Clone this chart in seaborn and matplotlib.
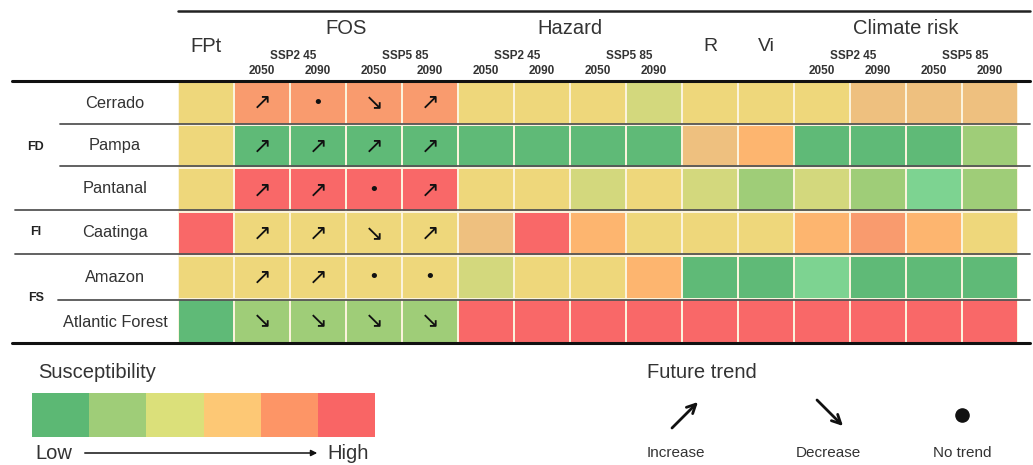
import numpy as np
import pandas as pd
import seaborn as sns
import matplotlib.pyplot as plt
from matplotlib.colors import ListedColormap

sns.set_theme(style='white')
plt.rcParams['font.family'] = ['Liberation Sans', 'DejaVu Sans']

# Data
regions = ['Cerrado', 'Pampa', 'Pantanal', 'Caatinga', 'Amazon', 'Atlantic Forest']
columns = ['FPt',
           'FOS 245 2050', 'FOS 245 2090', 'FOS 585 2050', 'FOS 585 2090',
           'Haz 245 2050', 'Haz 245 2090', 'Haz 585 2050', 'Haz 585 2090',
           'R', 'Vi',
           'CR 245 2050', 'CR 245 2090', 'CR 585 2050', 'CR 585 2090']
groups = ['FD', 'FI', 'FS']

# shade levels seen in the table, low -> high susceptibility
shades = ['#5fba77', '#7dd391', '#9fcd78', '#d3d87d', '#eed77b',
          '#eec07f', '#fdb56f', '#f99b6e', '#f96868']

levels = [
    [4, 7, 7, 7, 7, 4, 4, 4, 3, 4, 4, 4, 5, 5, 5],
    [4, 0, 0, 0, 0, 0, 0, 0, 0, 5, 6, 0, 0, 0, 2],
    [4, 8, 8, 8, 8, 4, 4, 3, 4, 3, 2, 3, 2, 1, 2],
    [8, 4, 4, 4, 4, 5, 8, 6, 4, 4, 4, 6, 7, 6, 4],
    [4, 4, 4, 4, 4, 3, 4, 4, 6, 0, 0, 1, 0, 0, 0],
    [0, 2, 2, 2, 2, 8, 8, 8, 8, 8, 8, 8, 8, 8, 8],
]

# trend of FOS (columns 1-4)
trends = [
    ['up', 'none', 'down', 'up'],
    ['up', 'up', 'up', 'up'],
    ['up', 'up', 'none', 'up'],
    ['up', 'up', 'down', 'up'],
    ['up', 'up', 'none', 'none'],
    ['down', 'down', 'down', 'down'],
]

legend_colors = ['#5cb874', '#9fcd78', '#dbe07a', '#fdc875', '#fd9566', '#f96565']
trend_labels = ['Increase', 'Decrease', 'No trend']
symbols = {'up': '\u2197', 'down': '\u2198', 'none': '\u2022'}

df = pd.DataFrame(levels, index=regions, columns=columns)

W, H = 1033, 465
fig = plt.figure(figsize=(W / 100, H / 100), dpi=100)

def px_axes(x0, y0, x1, y1):
    return fig.add_axes([x0 / W, 1 - y1 / H, (x1 - x0) / W, (y1 - y0) / H])

# main table
ax = px_axes(178, 81, 1018, 343)
sns.heatmap(df, cmap=ListedColormap(shades), vmin=-0.5, vmax=len(shades) - 0.5,
            cbar=False, linewidths=1.2, linecolor='#fbf3dc', ax=ax,
            xticklabels=False, yticklabels=False)
ax.set_xlabel('')
ax.set_ylabel('')

txt = '#333333'
for i, row in enumerate(trends):
    for j, t in enumerate(row):
        ax.text(j + 1.5, i + 0.5, symbols[t], ha='center', va='center',
                fontsize=16 if t != 'none' else 13, color='#111111',
                family='DejaVu Sans')

# header
ax.text(0.5, -0.8, 'FPt', ha='center', va='center', fontsize=14.5, color=txt, clip_on=False)
ax.text(9.5, -0.8, 'R', ha='center', va='center', fontsize=14, color=txt, clip_on=False)
ax.text(10.5, -0.8, 'Vi', ha='center', va='center', fontsize=14, color=txt, clip_on=False)
for start, name in [(1, 'FOS'), (5, 'Hazard'), (11, 'Climate risk')]:
    ax.text(start + 2, -1.2, name, ha='center', va='center', fontsize=14.5, color=txt, clip_on=False)
    for k, ssp in enumerate(['SSP2 45', 'SSP5 85']):
        ax.text(start + 2 * k + 1.05, -0.58, ssp, ha='center', va='center', fontsize=8.5,
                fontweight='bold', color=txt, clip_on=False)
        for m, yr in enumerate(['2050', '2090']):
            ax.text(start + 2 * k + m + 0.5, -0.24, yr, ha='center', va='center', fontsize=8.5,
                    fontweight='bold', color=txt, clip_on=False)

# overlay for lines and side labels
ov = fig.add_axes([0, 0, 1, 1])
ov.set_xlim(0, W)
ov.set_ylim(H, 0)
ov.axis('off')

ov.plot([178, 1030], [11, 11], color='#222222', lw=1.8)
ov.plot([12, 1030], [81, 81], color='#111111', lw=2.2)
ov.plot([12, 1030], [343, 343], color='#111111', lw=2.2)
for y, x0 in [(124, 60), (166, 60), (210, 15), (254, 15), (300, 58)]:
    ov.plot([x0, 1030], [y, y], color='#555555', lw=1.3)

row_y = [103, 145, 188, 232, 277, 322]
for name, y in zip(regions, row_y):
    ov.text(115, y, name, ha='center', va='center', fontsize=11.8, color=txt)
for g, y in zip(groups, [147, 232, 298]):
    ov.text(36, y, g, ha='center', va='center', fontsize=9, fontweight='bold', color='#222222')

# susceptibility legend
ov.text(38, 372, 'Susceptibility', ha='left', va='center', fontsize=14.5, color=txt)
lax = px_axes(32, 393, 375, 437)
sns.heatmap(np.arange(6).reshape(1, 6), cmap=ListedColormap(legend_colors), cbar=False,
            vmin=-0.5, vmax=5.5, xticklabels=False, yticklabels=False, ax=lax)
ov.text(35, 453, 'Low', ha='left', va='center', fontsize=14.5, color=txt)
ov.text(327, 453, 'High', ha='left', va='center', fontsize=14.5, color=txt)
ov.annotate('', xy=(320, 453), xytext=(82, 453),
            arrowprops=dict(arrowstyle='-|>', color='#111111', lw=1.1, mutation_scale=9))

# future trend legend
ov.text(647, 372, 'Future trend', ha='left', va='center', fontsize=14.5, color=txt)
arrow_kw = dict(arrowstyle='->', color='#111111', lw=2, mutation_scale=16, shrinkA=0, shrinkB=0)
ov.annotate('', xy=(698, 402), xytext=(672, 428), arrowprops=arrow_kw)
ov.annotate('', xy=(843, 426), xytext=(817, 400), arrowprops=arrow_kw)
ov.scatter([962], [415], s=90, color='#111111')
for x, lab in zip([676, 828, 962], trend_labels):
    ov.text(x, 453, lab, ha='center', va='center', fontsize=11, color=txt)

fig.savefig('out.png', dpi=100)
